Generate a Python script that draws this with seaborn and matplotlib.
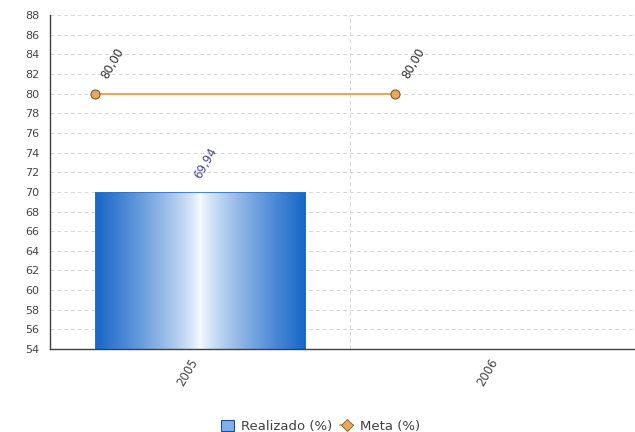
import numpy as np
import pandas as pd
import matplotlib.pyplot as plt
import seaborn as sns
from matplotlib.colors import LinearSegmentedColormap
from matplotlib.lines import Line2D
from matplotlib.patches import Patch

years = ["2005", "2006"]
realizado = [69.94, np.nan]
meta = [80.00, 80.00]

sns.set_style("white")
plt.rcParams['font.family'] = ['DejaVu Sans']

fig = plt.figure(figsize=(6.35, 4.32), dpi=100)
ax = fig.add_axes([0.079, 0.192, 0.945, 0.773])

df = pd.DataFrame({"ano": years, "Realizado (%)": realizado})
bar_w = 0.7
sns.barplot(data=df, x="ano", y="Realizado (%)", order=years, width=bar_w,
            color="#1a6acc", ax=ax, zorder=3)

ax.set_xlim(-0.5, len(years) - 0.5)
ax.set_ylim(54, 88)
ylo = ax.get_ylim()[0]

# gradient fill for the bars
grad = LinearSegmentedColormap.from_list("g", ["#f4f9ff", "#1766c9"])
prof = np.abs(np.linspace(-1, 1, 256)) ** 0.8
for p in list(ax.patches):
    x0, y0 = p.get_x(), p.get_y()
    w, h = p.get_width(), p.get_height()
    if not np.isfinite(h) or h == 0:
        continue
    p.set_facecolor("none")
    p.set_edgecolor("#2a72cf")
    p.set_linewidth(0.6)
    im = ax.imshow(prof[None, :], cmap=grad, aspect="auto",
                   extent=(x0, x0 + w, max(y0, ylo), y0 + h), zorder=2)
    im.set_clip_box(ax.bbox)
    ax.annotate(f"{h:.2f}".replace(".", ","), (x0 + w / 2, y0 + h),
                xytext=(2, 8), textcoords="offset points", rotation=60,
                rotation_mode="anchor", ha="left", va="bottom",
                fontsize=8.5, color="#4545a5")

# meta line sits at the left edge of each category's bar slot
pos = np.arange(len(years)) - bar_w / 2
sns.lineplot(x=pos, y=meta, ax=ax, color="#e8a860", linewidth=1.5,
             marker="o", markersize=6.5, markerfacecolor="#e8a860",
             markeredgecolor="#7a5a30", markeredgewidth=0.8, zorder=4)
for xp, v in zip(pos, meta):
    ax.annotate(f"{v:.2f}".replace(".", ","), (xp, v),
                xytext=(11, 9), textcoords="offset points", rotation=60,
                rotation_mode="anchor", ha="left", va="bottom",
                fontsize=8.5, color="#303030")

ax.set_xlim(-0.5, len(years) - 0.5)
ax.set_ylim(54, 88)
ax.set_yticks(np.arange(54, 89, 2))
ax.set_yticks(np.arange(54, 89, 1), minor=True)
ax.set_xticks(np.arange(len(years)))
ax.set_xticklabels(years, rotation=60, ha="right", va="top")
ax.set_xticks(np.arange(len(years) - 1) + 0.5, minor=True)
ax.set_xlabel("")
ax.set_ylabel("")

ax.tick_params(axis="y", which="major", direction="in", length=5, width=0.8,
               color="#404040", labelsize=8, labelcolor="#444444", pad=8)
ax.tick_params(axis="y", which="minor", direction="in", length=3, width=0.6,
               color="#404040")
ax.tick_params(axis="x", which="major", length=0, labelsize=8.5,
               labelcolor="#444444", pad=5)
ax.tick_params(axis="x", which="minor", direction="in", length=4, width=0.8,
               color="#404040")

ax.grid(False)
ax.grid(axis="y", which="major", linestyle=(0, (4, 3)), color="#d8d8d8",
        linewidth=0.7, zorder=0)
ax.grid(axis="x", which="minor", linestyle=(0, (4, 3)), color="#d8d8d8",
        linewidth=0.7, zorder=0)
ax.set_axisbelow(True)

for s in ["top", "right"]:
    ax.spines[s].set_visible(False)
for s in ["left", "bottom"]:
    ax.spines[s].set_color("#404040")
    ax.spines[s].set_linewidth(1.0)
    ax.spines[s].set_zorder(5)

handles = [
    Patch(facecolor="#7fb0ea", edgecolor="#1a4f99", linewidth=0.8, label="Realizado (%)"),
    Line2D([0], [0], color="#e8a860", marker="D", markersize=6,
           markerfacecolor="#e8a860", markeredgecolor="#7a5a30", markeredgewidth=0.6,
           label="Meta (%)"),
]
fig.legend(handles=handles, loc="lower center", bbox_to_anchor=(0.505, -0.03),
           ncol=2, frameon=False, fontsize=9.5, handlelength=1.0, handleheight=0.8,
           columnspacing=0.6, handletextpad=0.5, labelcolor="#404040")

fig.savefig("out.png", dpi=100)
